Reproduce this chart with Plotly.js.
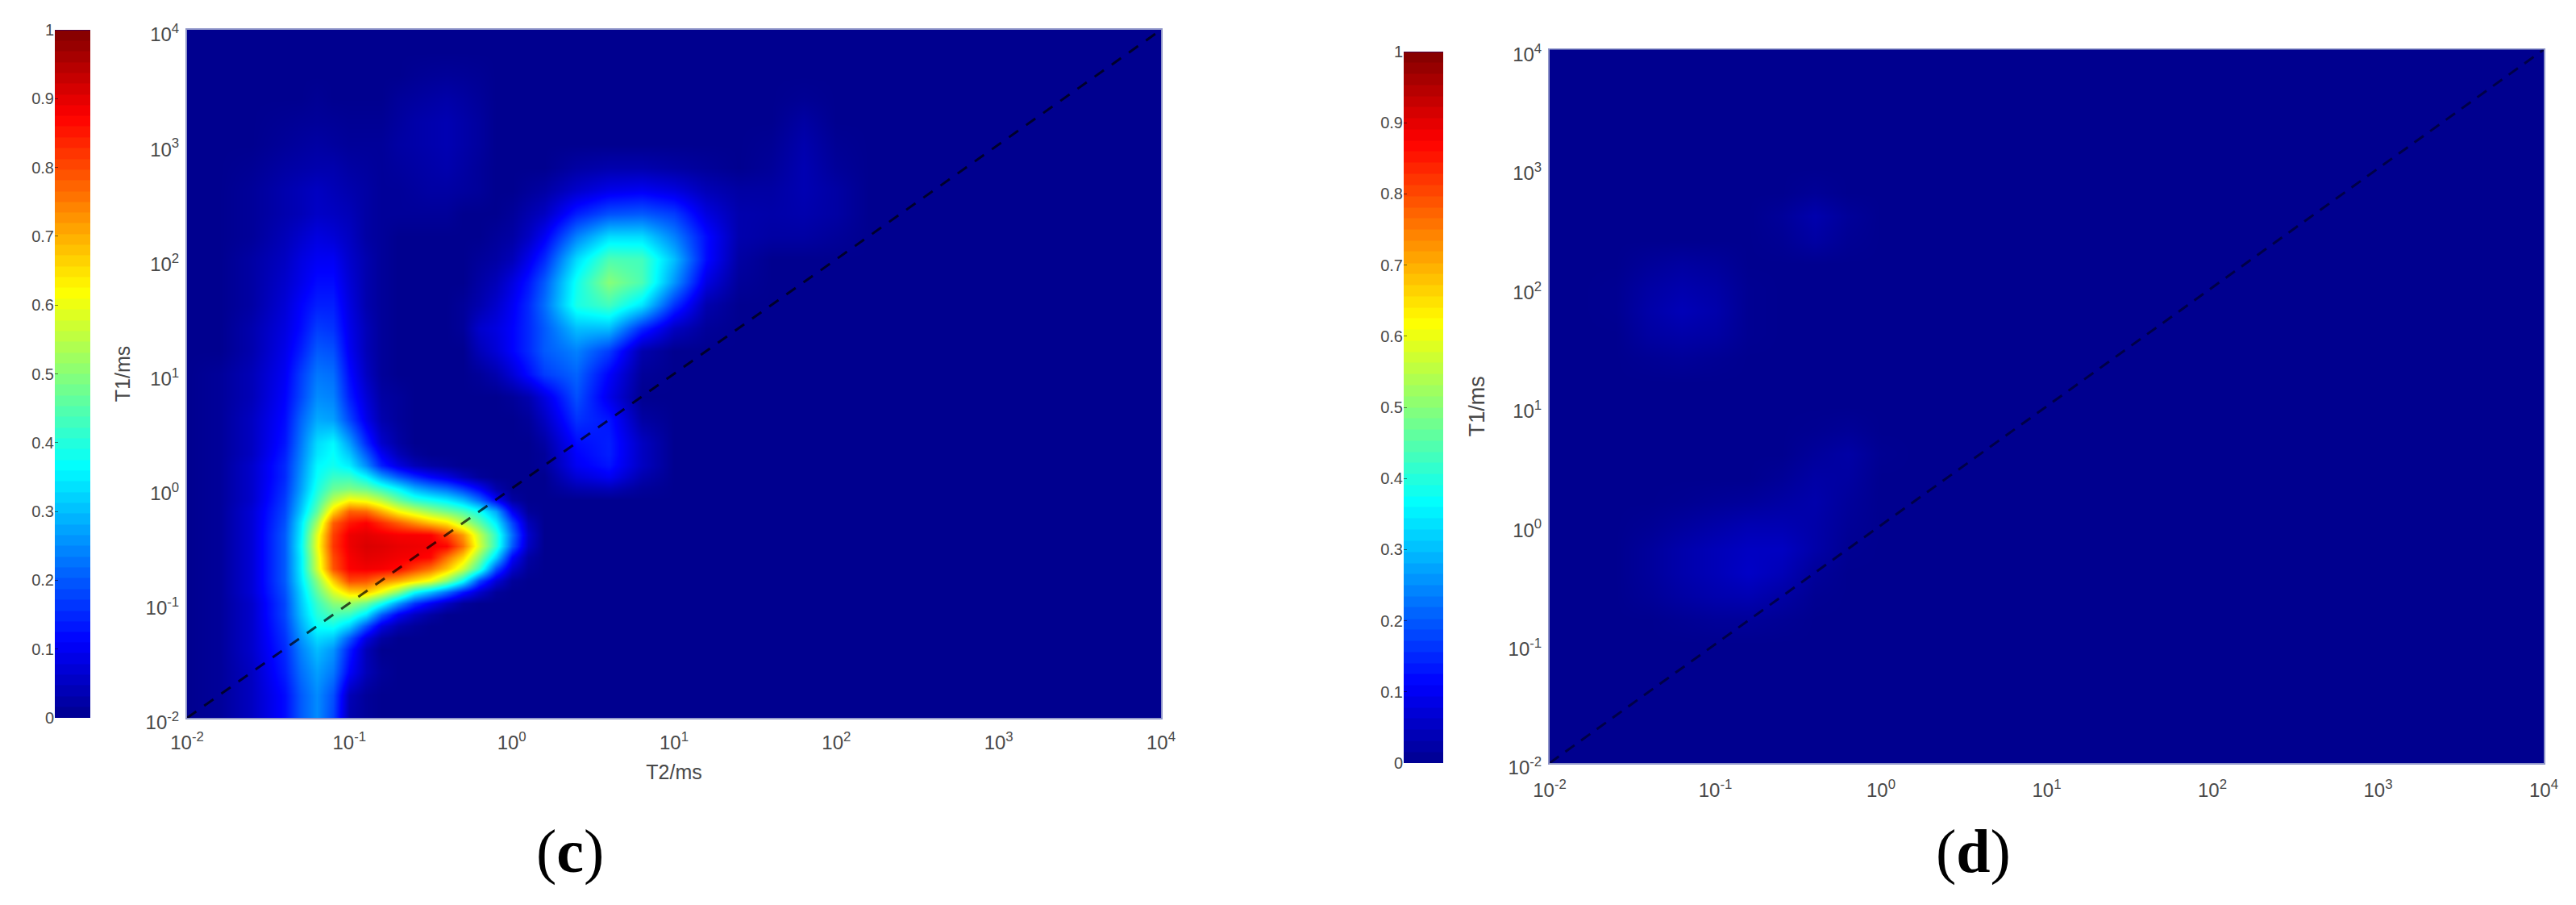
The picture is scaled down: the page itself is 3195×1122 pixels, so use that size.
<!DOCTYPE html>
<html>
<head>
<meta charset="utf-8">
<script src="https://cdn.plot.ly/plotly-3.0.1.min.js"></script>
<style>html,body{margin:0;padding:0;background:#fff}</style>
</head>
<body>
<div id="chart"></div>
<script>
var W = 3195, H = 1122;

// panel (c) grid in ms, closer points around the main peak
var t2C = [0.01, 0.0158, 0.0251, 0.0398, 0.0501, 0.0631, 0.0794, 0.1, 0.126, 0.158, 0.2, 0.251, 0.316, 0.398, 0.501, 0.631, 0.794, 1, 1.26, 1.58,
    2.51, 3.98, 6.31, 10, 15.8, 25.1, 39.8, 63.1, 100, 158, 251, 398, 631, 1000, 1585, 2512, 3981, 6310, 10000];
var t1C = [0.01, 0.0158, 0.0251, 0.0398, 0.0501, 0.0631, 0.0794, 0.1, 0.126, 0.158, 0.2, 0.251, 0.316, 0.398, 0.501, 0.631, 0.794, 1, 1.26, 1.58, 2, 2.51,
    3.98, 6.31, 10, 15.8, 25.1, 39.8, 63.1, 100, 158, 251, 398, 631, 1000, 1585, 2512, 3981, 6310, 10000];

// amplitude; rows go from T1=0.01 upwards, columns from T2=0.01, the rest of a row is 0
var zC = [
    [0, .01, .05, .12, .2, .25, .18, .03, .01],
    [0, .01, .05, .12, .2, .25, .19, .04, .01],
    [0, .01, .05, .14, .22, .27, .23, .11, .04, .01],
    [0, .01, .06, .15, .24, .3, .26, .14, .04],
    [0, .01, .06, .16, .26, .33, .31, .2, .08, .02],
    [0, .01, .06, .17, .28, .37, .38, .32, .19, .08, .03, .01],
    [0, .01, .06, .18, .3, .4, .44, .42, .34, .2, .1, .05, .02],
    [0, .01, .06, .18, .31, .42, .5, .52, .47, .38, .26, .16, .1, .05, .01],
    [0, .01, .07, .19, .32, .46, .58, .66, .67, .6, .5, .37, .3, .22, .13, .06, .01],
    [0, .01, .07, .2, .34, .5, .67, .8, .79, .74, .7, .65, .6, .5, .37, .18, .07, .01],
    [0, .01, .07, .2, .35, .57, .79, .875, .885, .88, .865, .81, .76, .68, .57, .42, .19, .06, .01],
    [0, .01, .07, .2, .35, .58, .8, .88, .9, .895, .885, .88, .865, .76, .66, .5, .32, .11, .02],
    [0, .01, .07, .2, .36, .6, .82, .89, .91, .905, .895, .89, .885, .87, .76, .58, .41, .2, .05],
    [0, .01, .07, .2, .35, .59, .81, .89, .9, .89, .88, .88, .875, .81, .72, .56, .41, .22, .06],
    [0, .01, .07, .19, .34, .53, .78, .85, .875, .83, .78, .73, .68, .64, .55, .46, .35, .18, .04],
    [0, .01, .07, .18, .31, .46, .66, .78, .77, .7, .62, .57, .52, .48, .44, .38, .28, .1, .01],
    [0, .01, .06, .17, .29, .42, .55, .62, .6, .55, .47, .41, .38, .35, .3, .22, .11, .02],
    [0, .01, .06, .16, .27, .39, .47, .49, .47, .42, .36, .29, .25, .22, .17, .11, .03, 0, 0, 0, .03, .04, .01],
    [0, .01, .06, .15, .26, .37, .42, .42, .36, .27, .2, .15, .11, .08, .04, .01, 0, 0, 0, 0, .07, .1, .03],
    [0, .01, .06, .15, .25, .36, .38, .35, .25, .14, .08, .04, .02, .01, 0, 0, 0, 0, 0, .01, .1, .13, .05],
    [0, .01, .05, .14, .24, .34, .37, .31, .2, .1, .04, .01, 0, 0, 0, 0, 0, 0, 0, .01, .11, .14, .05],
    [0, .01, .05, .13, .23, .33, .36, .27, .15, .06, .02, 0, 0, 0, 0, 0, 0, 0, 0, .02, .12, .14, .05],
    [0, .01, .05, .12, .21, .28, .27, .18, .09, .03, .01, 0, 0, 0, 0, 0, 0, 0, .01, .05, .16, .13, .02],
    [0, .01, .04, .11, .18, .25, .24, .14, .07, .02, .01, 0, 0, 0, 0, 0, 0, .01, .03, .08, .19, .09],
    [0, .01, .04, .1, .17, .23, .22, .12, .05, .01, 0, 0, 0, 0, 0, .01, .03, .07, .12, .17, .21, .11, .01],
    [0, 0, .03, .09, .14, .2, .19, .1, .04, .01, 0, 0, 0, 0, 0, .04, .07, .11, .15, .2, .24, .17, .03],
    [0, 0, .03, .08, .12, .17, .16, .09, .04, .01, 0, 0, 0, 0, .01, .06, .08, .11, .15, .2, .3, .3, .15, .05, .01],
    [0, 0, .02, .07, .11, .14, .14, .08, .03, .01, 0, 0, 0, 0, .01, .03, .06, .1, .15, .22, .39, .43, .34, .16, .03],
    [0, 0, .02, .06, .09, .12, .12, .07, .03, .01, 0, 0, 0, 0, 0, .02, .04, .08, .13, .2, .38, .5, .44, .26, .08, .01],
    [0, 0, .02, .05, .08, .1, .1, .06, .03, .01, 0, 0, 0, 0, 0, .01, .02, .04, .09, .15, .33, .44, .43, .3, .12, .02],
    [0, 0, .01, .04, .06, .08, .07, .05, .02, .01, 0, 0, 0, 0, 0, 0, .01, .02, .05, .1, .24, .33, .33, .24, .12, .03, .02, .02, .01],
    [0, 0, .01, .03, .04, .055, .05, .04, .02, .01, .01, .01, .01, .01, 0, 0, 0, .01, .03, .05, .14, .19, .2, .17, .08, .03, .025, .03, .02],
    [0, 0, .01, .03, .04, .05, .04, .03, .02, .01, .01, .015, .02, .02, .015, .01, 0, 0, .01, .02, .06, .09, .1, .08, .04, .02, .02, .035, .02],
    [0, 0, .005, .02, .025, .03, .03, .02, .015, .01, .015, .02, .025, .03, .02, .01, 0, 0, 0, 0, .02, .03, .03, .02, .01, 0, .01, .035, .01],
    [0, 0, 0, .01, .015, .02, .015, .01, .01, .01, .02, .025, .03, .035, .025, .015, 0, 0, 0, 0, 0, 0, 0, 0, 0, 0, .005, .03, .005],
    [0, 0, 0, .005, .008, .01, .008, .005, .005, .005, .015, .025, .03, .035, .025, .015, 0, 0, 0, 0, 0, 0, 0, 0, 0, 0, 0, .02],
    [0, 0, 0, 0, 0, .005, 0, 0, 0, 0, .01, .015, .02, .025, .018, .01, 0, 0, 0, 0, 0, 0, 0, 0, 0, 0, 0, .005],
    [0, 0, 0, 0, 0, 0, 0, 0, 0, 0, 0, .005, .008, .01, .008, .005],
    [],
    []
];

// panel (d) grid in ms, 5 points per decade on both axes
var gridD = [0.01, 0.0158, 0.0251, 0.0398, 0.0631, 0.1, 0.158, 0.251, 0.398, 0.631,
    1, 1.58, 2.51, 3.98, 6.31, 10, 15.8, 25.1, 39.8, 63.1,
    100, 158, 251, 398, 631, 1000, 1585, 2512, 3981, 6310, 10000];

// amplitude, same layout
var zD = [
    [], [], [], [], [], [],
    [0, 0, 0, 0, .005, .01, .01, .005],
    [0, 0, 0, .008, .02, .03, .035, .02, .003],
    [0, 0, 0, .012, .028, .04, .055, .04, .01],
    [0, 0, 0, .012, .028, .04, .05, .05, .025, .003],
    [0, 0, 0, .005, .015, .025, .035, .035, .025, .008],
    [0, 0, 0, 0, .003, .008, .012, .02, .028, .012],
    [0, 0, 0, 0, 0, 0, 0, .008, .022, .018],
    [0, 0, 0, 0, 0, 0, 0, 0, .012, .022, .003],
    [0, 0, 0, 0, 0, 0, 0, 0, .003, .008],
    [],
    [],
    [0, 0, 0, .005, .01, .005],
    [0, 0, 0, .018, .025, .02, .003],
    [0, 0, .003, .025, .04, .028, .003],
    [0, 0, .003, .02, .03, .022, .003],
    [0, 0, 0, .01, .018, .012],
    [0, 0, 0, 0, 0, 0, 0, .005, .02, .005],
    [0, 0, 0, 0, 0, 0, 0, .01, .03, .01],
    [0, 0, 0, 0, 0, 0, 0, 0, .008],
    [], [], [], [], [], []
];

var diagonalMs = [0.01, 10000];
var logTicks = [0.01, 0.1, 1, 10, 100, 1000, 10000];
var logTickText = ['10<sup>-2</sup>', '10<sup>-1</sup>', '10<sup>0</sup>', '10<sup>1</sup>', '10<sup>2</sup>', '10<sup>3</sup>', '10<sup>4</sup>'];
var barTicks = [0, 0.1, 0.2, 0.3, 0.4, 0.5, 0.6, 0.7, 0.8, 0.9, 1];
var barTickText = ['0', '0.1', '0.2', '0.3', '0.4', '0.5', '0.6', '0.7', '0.8', '0.9', '1'];
// 64 steps of the colour bar
var barLevels = [0.008, 0.023, 0.039, 0.055, 0.070, 0.086, 0.102, 0.117, 0.133, 0.148, 0.164, 0.180, 0.195, 0.211, 0.227, 0.242,
    0.258, 0.273, 0.289, 0.305, 0.320, 0.336, 0.352, 0.367, 0.383, 0.398, 0.414, 0.430, 0.445, 0.461, 0.477, 0.492,
    0.508, 0.523, 0.539, 0.555, 0.570, 0.586, 0.602, 0.617, 0.633, 0.648, 0.664, 0.680, 0.695, 0.711, 0.727, 0.742,
    0.758, 0.773, 0.789, 0.805, 0.820, 0.836, 0.852, 0.867, 0.883, 0.898, 0.914, 0.930, 0.945, 0.961, 0.977, 0.992];
var jet = [[0, 'rgb(0,0,143)'], [0.111, 'rgb(0,0,255)'], [0.365, 'rgb(0,255,255)'],
    [0.619, 'rgb(255,255,0)'], [0.873, 'rgb(255,0,0)'], [1, 'rgb(128,0,0)']];

var textColor = '#484848';

function fullRows(rows, n) {
    return rows.map(function (r) {
        var out = r.slice();
        while (out.length < n) out.push(0);
        return out;
    });
}
function xDom(a, b) { return [a / W, b / W]; }
function yDom(top, bottom) { return [1 - bottom / H, 1 - top / H]; }

function mapTrace(x, y, z, xa, ya) {
    return {
        type: 'heatmap', x: x, y: y, z: fullRows(z, x.length), xaxis: xa, yaxis: ya,
        zmin: 0, zmax: 1, zsmooth: 'best', colorscale: jet, showscale: false, hoverinfo: 'skip'
    };
}
function barTrace(xa, ya) {
    return {
        type: 'heatmap', x: [0, 1], y: barLevels, z: barLevels.map(function (v) { return [v, v]; }),
        xaxis: xa, yaxis: ya, zmin: 0, zmax: 1, colorscale: jet, showscale: false, hoverinfo: 'skip'
    };
}
function diagonal(xa, ya, color, dash) {
    return {
        type: 'scatter', mode: 'lines', x: diagonalMs, y: diagonalMs, xaxis: xa, yaxis: ya,
        line: { color: color, width: 3, dash: dash }, hoverinfo: 'skip'
    };
}
function logAxis(dom, anchor, extra) {
    var ax = {
        type: 'log', domain: dom, anchor: anchor, range: [-2, 4], tickmode: 'array',
        tickvals: logTicks, ticktext: logTickText, showgrid: false, zeroline: false,
        ticks: '', showline: true, mirror: true, linecolor: 'rgba(70,80,165,0.6)', linewidth: 2,
        tickfont: { family: 'Liberation Sans', size: 24, color: textColor }
    };
    return Object.assign(ax, extra);
}
function stripX(dom, anchor) {
    return { domain: dom, anchor: anchor, range: [0, 1], showticklabels: false, showgrid: false, zeroline: false, ticks: '', showline: false };
}
function stripY(dom, anchor) {
    return {
        domain: dom, anchor: anchor, range: [0, 1], tickmode: 'array', tickvals: barTicks, ticktext: barTickText,
        showgrid: false, zeroline: false, ticks: 'inside', ticklen: 4, tickcolor: 'rgba(0,0,0,0.5)', showline: false,
        tickfont: { family: 'Liberation Sans', size: 20, color: textColor }
    };
}
function axisTitle(text, size, standoff) {
    return { text: text, standoff: standoff, font: { family: 'Liberation Sans', size: size, color: textColor } };
}
function panelLabel(text, px) {
    return {
        xref: 'paper', yref: 'paper', x: px / W, y: 1 - 1055 / H, xanchor: 'center', yanchor: 'middle',
        text: text, showarrow: false, font: { family: 'Liberation Serif', size: 76, color: '#000' }
    };
}

var data = [
    mapTrace(t2C, t1C, zC, 'x', 'y'),
    diagonal('x', 'y', 'rgba(0,0,0,0.7)', '14px,12px'),
    barTrace('x2', 'y2'),
    mapTrace(gridD, gridD, zD, 'x3', 'y3'),
    diagonal('x3', 'y3', 'rgba(0,0,40,0.7)', '14px,10px'),
    barTrace('x4', 'y4')
];

var layout = {
    width: W, height: H, autosize: false,
    margin: { l: 0, r: 0, t: 0, b: 0, pad: 0 },
    paper_bgcolor: '#fff', plot_bgcolor: '#00008f', showlegend: false,
    xaxis: logAxis(xDom(232, 1440), 'y', { ticklabelstandoff: 8, title: axisTitle('T2/ms', 25, 16) }),
    yaxis: logAxis(yDom(37, 890), 'x', { ticklabelstandoff: 3, title: axisTitle('T1/ms', 25, 12) }),
    xaxis2: stripX(xDom(68, 112), 'y2'),
    yaxis2: stripY(yDom(37, 890), 'x2'),
    xaxis3: logAxis(xDom(1922, 3155), 'y3', { ticklabelstandoff: 11 }),
    yaxis3: logAxis(yDom(61.5, 946), 'x3', { ticklabelstandoff: 3, title: axisTitle('T1/ms', 27, 21) }),
    xaxis4: stripX(xDom(1741, 1790), 'y4'),
    yaxis4: stripY(yDom(64, 946), 'x4'),
    annotations: [panelLabel('(<b>c</b>)', 707), panelLabel('(<b>d</b>)', 2447)]
};

Plotly.newPlot('chart', data, layout, { displayModeBar: false, staticPlot: true }).then(function () {
    // the labels sit a little under their ticks in the reference
    document.querySelectorAll('.ytick text, .y3tick text').forEach(function (t) {
        t.setAttribute('transform', (t.getAttribute('transform') || '') + ' translate(0,6)');
    });
});
</script>
</body>
</html>
